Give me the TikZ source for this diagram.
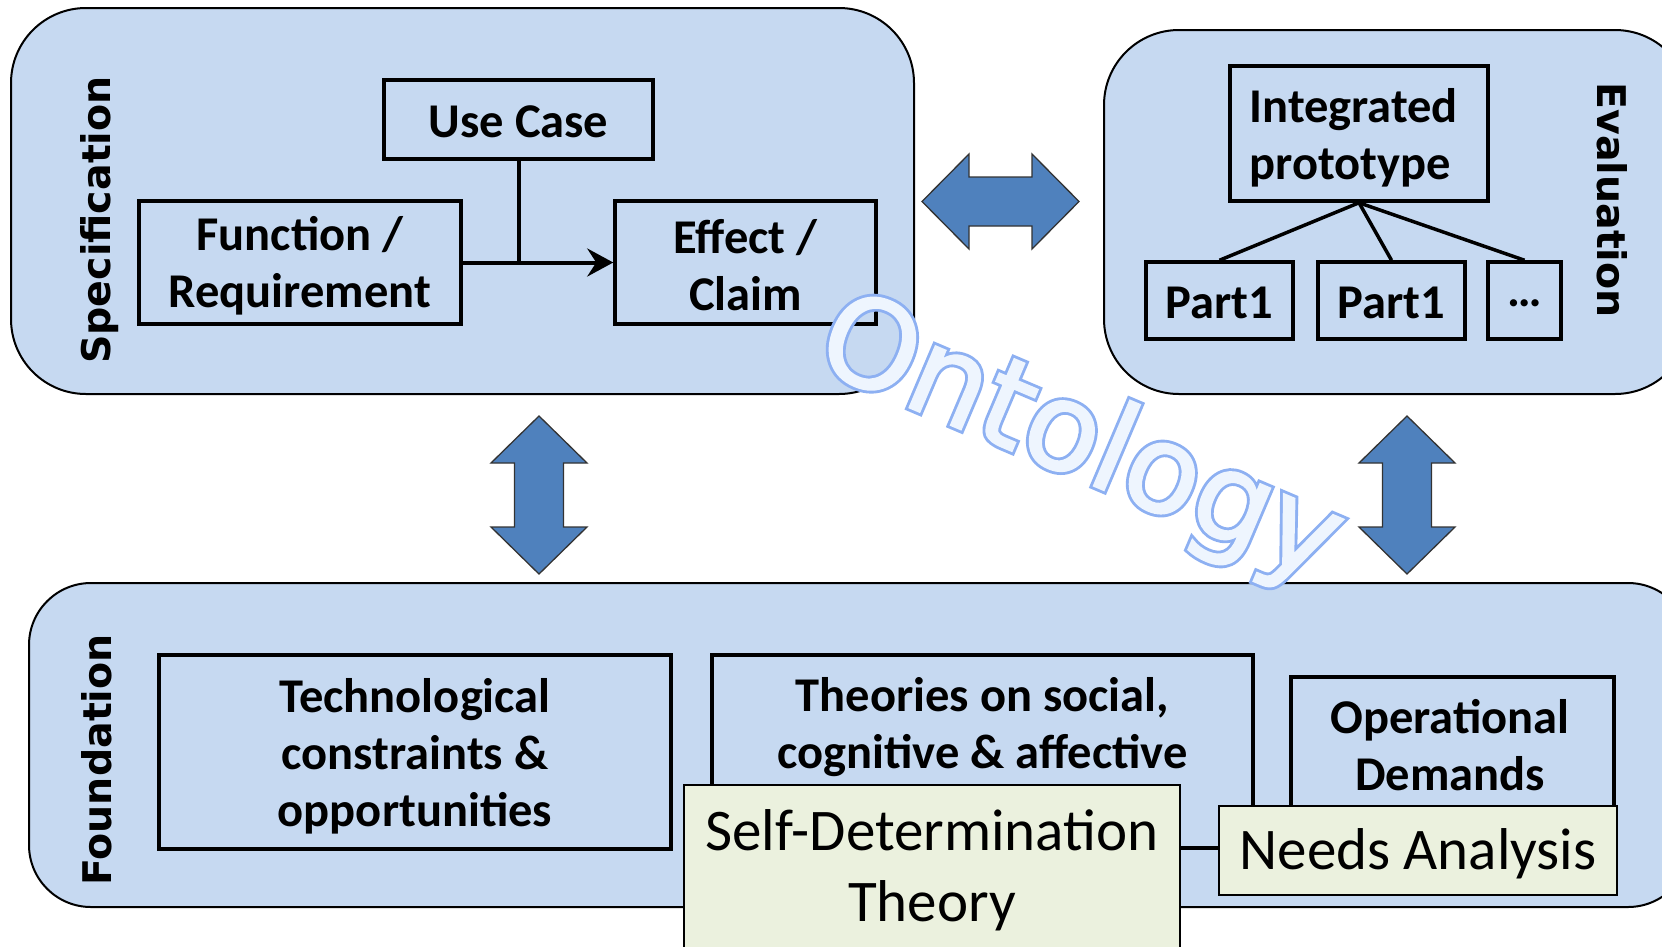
\documentclass[tikz,border=0pt]{standalone}
\usepackage{fontspec}
\setmainfont{Carlito}
\newfontfamily\labelfont{DejaVu Sans}
\newfontfamily\ontofont[FakeBold=1.5]{DejaVu Sans}
\newfontfamily\ontoboldfont[FakeBold=6.2]{DejaVu Sans}
\usetikzlibrary{arrows.meta}
\definecolor{boxblue}{HTML}{C6D9F1}
\definecolor{arrblue}{HTML}{4F81BD}
\definecolor{sdtfill}{HTML}{EBF1DE}
\definecolor{ontoline}{HTML}{8DB0F2}
\definecolor{ontofill}{HTML}{EEF5FE}
\newcommand\myvarrow[1]{%
  \begin{scope}[shift={(#1,416)}]
    \draw[blockarrow] (0,0) -- (48,47) -- (24.5,47) -- (24.5,111) -- (48,111) -- (0,158)
      -- (-48,111) -- (-24.5,111) -- (-24.5,47) -- (-48,47) -- cycle;
  \end{scope}}
\begin{document}
\begin{tikzpicture}[x=1pt,y=-1pt,
  container/.style={draw=black, line width=2pt, fill=boxblue, rectangle, inner sep=0pt},
  ibox/.style={draw=black, line width=3.5pt, rectangle, inner sep=0pt},
  btext/.style={align=center, inner sep=0pt, font=\fontsize{48.5}{57}\selectfont\bfseries},
  gbox/.style={draw=black, line width=2pt, fill=sdtfill, rectangle, inner sep=0pt},
  gtext/.style={align=center, inner sep=0pt, font=\fontsize{59}{71}\selectfont},
  sidelabel/.style={inner sep=0pt, font=\labelfont\bfseries\fontsize{39.5}{46}\selectfont},
  conn/.style={draw=black, line width=4pt},
  tree/.style={draw=black, line width=3.5pt},
  blockarrow/.style={fill=arrblue, draw=black!80, line width=1.3pt, line join=miter},
  ontostyle/.style={rotate=-23, inner sep=0pt}]
\useasboundingbox (0,0) rectangle (1662,946);
\clip (0,0) rectangle (1662,946);
% containers
\node[container, rounded corners=75pt, minimum width=903pt, minimum height=386pt] (spec) at (462.5,201) {};
\node[container, rounded corners=75pt, minimum width=586pt, minimum height=364pt] (eval) at (1397,212) {};
\node[container, rounded corners=62pt, minimum width=1661pt, minimum height=324pt] (found) at (859.5,745) {};
% side labels
\node[sidelabel, rotate=90] (speclabel) at (100,220) {Specification};
\node[sidelabel, rotate=-90] (evallabel) at (1612,200) {Evaluation};
\node[sidelabel, rotate=90] (foundlabel) at (97,760) {Foundation};
% specification content
\node[ibox, minimum width=269pt, minimum height=79pt] (usecase) at (518.5,119.5) {};
\node[btext] (usecasetext) at ([yshift=-2.5pt]usecase.center) {Use Case};
\node[ibox, minimum width=322pt, minimum height=123pt] (func) at (300,262.5) {};
\node[btext] (functext) at ([yshift=-3.5pt]func.center) {Function /\\Requirement};
\node[ibox, minimum width=261pt, minimum height=123pt] (effect) at (745.5,262.5) {};
\node[btext] (effecttext) at ([yshift=-3pt]effect.center) {Effect /\\Claim};
\draw[conn, -{Stealth[length=26pt,width=28pt,inset=9pt]}] (func.east) -- (effect.west);
\draw[conn] (usecase.south) -- (usecase.south |- func.east);
% evaluation content
\node[ibox, minimum width=258pt, minimum height=135pt] (integ) at (1359,133.5) {};
\node[btext, align=left, anchor=west] (integtext) at ([xshift=21pt,yshift=-4pt]integ.west) {Integrated\\prototype};
\node[ibox, minimum width=147pt, minimum height=77pt] (p1) at (1219.5,300.5) {};
\node[btext] (p1text) at ([yshift=-2.5pt]p1.center) {Part1};
\node[ibox, minimum width=147pt, minimum height=77pt] (p2) at (1391.5,300.5) {};
\node[btext] (p2text) at ([yshift=-2.5pt]p2.center) {Part1};
\node[ibox, minimum width=73pt, minimum height=77pt] (p3) at (1524.5,300.5) {};
\node[btext] (p3text) at ([yshift=-2.5pt]p3.center) {\ldots};
\draw[tree] (integ.south) -- (p1.north);
\draw[tree] (integ.south) -- (p2.north);
\draw[tree] (integ.south) -- (p3.north);
% block arrows
\draw[blockarrow] (922,201.5) -- (969,154) -- (969,177) -- (1032,177) -- (1032,154) -- (1079,201.5)
  -- (1032,249) -- (1032,226) -- (969,226) -- (969,249) -- cycle;
\myvarrow{539}
\myvarrow{1407}
% foundation content
\node[ibox, minimum width=512pt, minimum height=194pt] (tech) at (415,752) {};
\node[btext] (techtext) at ([yshift=-4pt]tech.center) {Technological\\constraints \&\\opportunities};
\node[ibox, minimum width=541pt, minimum height=193pt] (theories) at (982.5,751.5) {};
\node[btext] (theoriestext) at (982.5,727) {Theories on social,\\cognitive \& affective};
\node[ibox, minimum width=323pt, minimum height=153pt] (oper) at (1452.5,753.5) {};
\node[btext] (opertext) at (1450,745) {Operational\\Demands};
\node[gbox, minimum width=496pt, minimum height=165pt] (sdt) at (932,867.5) {};
\node[gtext] (sdttext) at ([yshift=-2.5pt]sdt.center) {Self-Determination\\Theory};
\node[gbox, minimum width=398pt, minimum height=89pt] (needs) at (1418,850.5) {};
\node[gtext] (needstext) at ([yshift=-3pt]needs.center) {Needs Analysis};
% watermark: outline layer (fake bold) and light fill on top
\node[ontostyle, text=ontoline, font=\ontoboldfont\fontsize{122}{122}\selectfont] (ontooutline) at (1079,443) {Ontology};
\node[ontostyle, text=ontofill, font=\ontofont\fontsize{122}{122}\selectfont] (onto) at (ontooutline.center) {Ontology};
\end{tikzpicture}
\end{document}
